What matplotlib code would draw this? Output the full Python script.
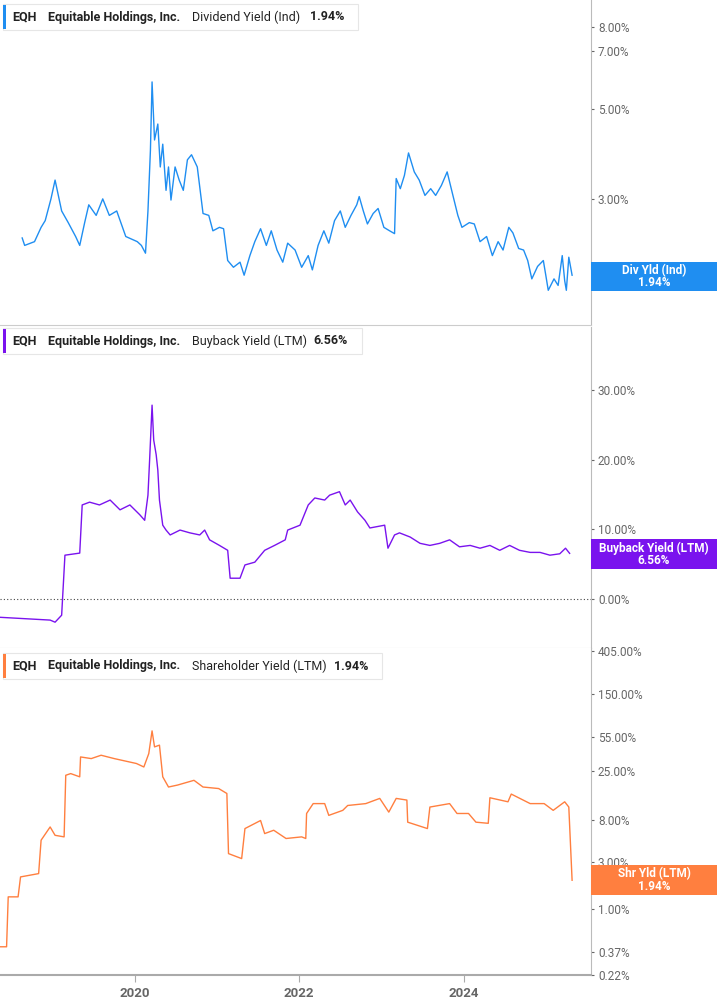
import numpy as np
import matplotlib.pyplot as plt
from matplotlib.patches import Rectangle

# ---- data (decimal years, percent) ----
div_dates = [2018.63, 2018.66, 2018.78, 2018.86, 2018.91, 2018.98, 2019.03, 2019.11, 2019.19, 2019.28,
             2019.33, 2019.39, 2019.44, 2019.53, 2019.61, 2019.69, 2019.78, 2019.89, 2020.03, 2020.08,
             2020.13, 2020.16, 2020.19, 2020.21, 2020.24, 2020.28, 2020.31, 2020.34, 2020.38, 2020.41,
             2020.44, 2020.49, 2020.54, 2020.59, 2020.64, 2020.69, 2020.76, 2020.83, 2020.90, 2020.95,
             2021.03, 2021.08, 2021.13, 2021.20, 2021.28, 2021.33, 2021.40, 2021.46, 2021.53, 2021.60,
             2021.66, 2021.73, 2021.80, 2021.86, 2021.95, 2022.03, 2022.11, 2022.16, 2022.23, 2022.30,
             2022.36, 2022.43, 2022.50, 2022.56, 2022.63, 2022.70, 2022.73, 2022.78, 2022.83, 2022.90,
             2022.96, 2023.03, 2023.10, 2023.16, 2023.18, 2023.23, 2023.28, 2023.33, 2023.40, 2023.46,
             2023.53, 2023.60, 2023.66, 2023.73, 2023.80, 2023.87, 2023.93, 2023.98, 2024.07, 2024.13,
             2024.20, 2024.28, 2024.35, 2024.42, 2024.48, 2024.55, 2024.60, 2024.67, 2024.73, 2024.78,
             2024.83, 2024.90, 2024.97, 2025.00, 2025.03, 2025.10, 2025.15, 2025.20, 2025.23, 2025.25,
             2025.28, 2025.32]
div_vals = [2.40, 2.30, 2.35, 2.55, 2.65, 3.00, 3.34, 2.80, 2.62, 2.42,
            2.30, 2.62, 2.90, 2.73, 3.00, 2.73, 2.80, 2.42, 2.35, 2.30,
            2.20, 2.80, 3.96, 5.85, 4.20, 4.60, 3.60, 4.10, 3.15, 3.60,
            2.98, 3.60, 3.34, 3.15, 3.75, 3.86, 3.60, 2.76, 2.73, 2.50,
            2.55, 2.53, 2.11, 2.03, 2.09, 1.94, 2.17, 2.35, 2.53, 2.30,
            2.50, 2.24, 2.09, 2.33, 2.24, 2.03, 2.17, 2.00, 2.30, 2.50,
            2.33, 2.65, 2.80, 2.55, 2.73, 2.90, 3.04, 2.80, 2.60, 2.76,
            2.84, 2.55, 2.50, 2.46, 3.37, 3.18, 3.43, 3.90, 3.50, 3.34,
            3.06, 3.18, 3.06, 3.24, 3.50, 3.06, 2.73, 2.55, 2.62, 2.60,
            2.35, 2.42, 2.17, 2.35, 2.24, 2.55, 2.47, 2.26, 2.24, 2.11,
            1.90, 2.04, 2.11, 1.94, 1.78, 1.90, 1.83, 2.17, 1.88, 1.78,
            2.15, 1.94]

bb_dates = [2018.36, 2018.97, 2019.03, 2019.11, 2019.15, 2019.33, 2019.36, 2019.45, 2019.57, 2019.70,
            2019.82, 2019.94, 2020.06, 2020.12, 2020.16, 2020.18, 2020.21, 2020.23, 2020.26, 2020.28,
            2020.30, 2020.34, 2020.38, 2020.43, 2020.55, 2020.67, 2020.79, 2020.85, 2020.91, 2021.03,
            2021.13, 2021.16, 2021.28, 2021.34, 2021.46, 2021.58, 2021.70, 2021.83, 2021.86, 2022.01,
            2022.11, 2022.19, 2022.31, 2022.37, 2022.49, 2022.56, 2022.62, 2022.71, 2022.80, 2022.86,
            2023.04, 2023.08, 2023.16, 2023.22, 2023.35, 2023.47, 2023.59, 2023.71, 2023.83, 2023.95,
            2024.08, 2024.20, 2024.32, 2024.44, 2024.56, 2024.68, 2024.81, 2024.93, 2025.05, 2025.17,
            2025.24, 2025.29]
bb_vals = [-2.6, -3.0, -3.3, -2.3, 6.3, 6.6, 13.5, 13.9, 13.5, 14.2,
           12.8, 13.5, 12.1, 11.3, 14.9, 19.9, 27.8, 22.8, 20.7, 18.5,
           14.2, 10.6, 9.9, 9.2, 9.9, 9.5, 9.2, 9.9, 8.5, 7.7,
           7.0, 3.0, 3.0, 4.9, 5.3, 7.0, 7.7, 8.5, 9.9, 10.6,
           13.5, 14.5, 14.2, 14.9, 15.4, 13.5, 14.2, 12.5, 11.3, 10.2,
           10.6, 7.3, 9.2, 9.5, 8.9, 8.0, 7.7, 8.0, 8.5, 7.5,
           7.7, 7.3, 7.7, 7.0, 7.7, 7.0, 6.7, 6.7, 6.3, 6.5,
           7.3, 6.56]

sh_dates = [2018.36, 2018.44, 2018.46, 2018.58, 2018.61, 2018.83, 2018.86, 2018.97, 2019.03, 2019.14,
            2019.16, 2019.22, 2019.33, 2019.34, 2019.47, 2019.59, 2019.75, 2020.02, 2020.11, 2020.17,
            2020.21, 2020.24, 2020.30, 2020.34, 2020.41, 2020.52, 2020.72, 2020.83, 2021.02, 2021.12,
            2021.14, 2021.30, 2021.34, 2021.53, 2021.58, 2021.69, 2021.84, 2022.03, 2022.08, 2022.09,
            2022.17, 2022.31, 2022.36, 2022.53, 2022.59, 2022.81, 2022.98, 2023.09, 2023.18, 2023.31,
            2023.32, 2023.56, 2023.59, 2023.83, 2023.92, 2024.06, 2024.15, 2024.30, 2024.32, 2024.54,
            2024.58, 2024.81, 2024.98, 2025.09, 2025.23, 2025.28, 2025.32]
sh_vals = [0.42, 0.42, 1.34, 1.34, 2.13, 2.30, 5.0, 6.8, 5.6, 5.4,
           22.6, 23.5, 21.8, 34.6, 33.3, 36.0, 33.3, 29.7, 27.4, 37.4,
           63.4, 43.7, 45.5, 21.8, 17.2, 18.0, 20.1, 17.2, 16.6, 14.8,
           3.66, 3.26, 6.55, 7.9, 5.83, 6.3, 5.2, 5.4, 5.2, 9.3,
           11.7, 11.7, 8.9, 10.0, 11.2, 11.7, 13.2, 9.6, 13.2, 12.7,
           7.6, 6.55, 10.8, 11.7, 9.3, 9.3, 7.6, 7.4, 13.4, 12.2,
           14.6, 11.7, 11.7, 10.0, 12.2, 10.8, 1.97]

div_ticks = [2, 3, 5, 7, 8]
bb_ticks = [0, 10, 20, 30]
sh_ticks = [0.22, 0.37, 1, 3, 8, 25, 55, 150, 405]
sh_tick_labels = ['0.22%', '0.37%', '1.00%', '3.00%', '8.00%', '25.00%', '55.00%', '150.00%', '405.00%']
x_years = [2020, 2022, 2024]

BLUE, PURPLE, ORANGE = '#1f8ef1', '#7a13ee', '#ff7f3f'
GREY = '#666666'
FONT = 'Roboto'
plt.rcParams['font.family'] = FONT

W, H = 717, 1005
fig = plt.figure(figsize=(W / 100, H / 100), dpi=100)

def axes_px(top, bottom):
    return fig.add_axes([0, 1 - bottom / H, 591 / W, (bottom - top) / H])

ax1 = axes_px(0, 325)
ax2 = axes_px(327, 648)
ax3 = axes_px(648, 975)

ax1.plot(div_dates, div_vals, color=BLUE, lw=1)
ax1.set_yscale('log')
ax1.set_ylim(1.46, 9.34)
ax1.set_yticks(div_ticks)
ax1.set_yticklabels([f'{v:.2f}%' for v in div_ticks])

ax2.plot(bb_dates, bb_vals, color=PURPLE, lw=1)
ax2.axhline(0, color='#444', lw=0.8, ls=(0, (1, 2)))
ax2.set_ylim(-7, 39)
ax2.set_yticks(bb_ticks)
ax2.set_yticklabels([f'{v:.2f}%' for v in bb_ticks])

ax3.plot(sh_dates, sh_vals, color=ORANGE, lw=1)
ax3.set_yscale('log')
ax3.set_ylim(0.218, 435)
ax3.set_yticks(sh_ticks)
ax3.set_yticklabels(sh_tick_labels)

for ax in (ax1, ax2, ax3):
    ax.set_xlim(2018.36, 2025.55)
    ax.yaxis.tick_right()
    ax.minorticks_off()
    ax.tick_params(axis='y', length=2, color=GREY, labelcolor=GREY, labelsize=8.5, pad=3)
    for s in ('left', 'top'):
        ax.spines[s].set_visible(False)
    ax.spines['right'].set_color('#bbbbbb')
    ax.spines['bottom'].set_color('#cccccc')
    ax.set_xticks(x_years)
for ax in (ax1, ax2):
    ax.tick_params(axis='x', length=0, labelbottom=False)
ax3.spines['bottom'].set_color('#aaaaaa')
ax3.spines['bottom'].set_linewidth(1.5)
ax3.tick_params(axis='x', length=5, color='#aaaaaa', labelcolor=GREY, labelsize=9.5)
for lab in ax3.get_xticklabels():
    lab.set_fontweight('bold')
ax3.set_xticklabels([str(y) for y in x_years])

def fy(y):
    return 1 - y / H

def header(yc, metric, value, x_val, box_w, color):
    fig.patches.append(Rectangle((3 / W, fy(yc + 13)), box_w / W, 26 / H, transform=fig.transFigure,
                                 facecolor='white', edgecolor='#e6e6e6', lw=0.8, zorder=5))
    fig.patches.append(Rectangle((3 / W, fy(yc + 12)), 3 / W, 24 / H, transform=fig.transFigure,
                                 facecolor=color, edgecolor='none', zorder=6))
    kw = dict(va='center', fontsize=9, color='#222', zorder=7)
    fig.text(12 / W, fy(yc), 'EQH', fontweight='bold', **kw)
    fig.text(48 / W, fy(yc), 'Equitable Holdings, Inc.', fontweight='bold', **kw)
    fig.text(192 / W, fy(yc), metric, **kw)
    fig.text(x_val / W, fy(yc), value, fontweight='bold', **kw)

header(17, 'Dividend Yield (Ind)', '1.94%', 310, 355, BLUE)
header(341, 'Buyback Yield (LTM)', '6.56%', 313, 359, PURPLE)
header(666, 'Shareholder Yield (LTM)', '1.94%', 334, 379, ORANGE)

def tag(top, bottom, line1, line2, color):
    fig.patches.append(Rectangle((591 / W, fy(bottom)), 126 / W, (bottom - top) / H, transform=fig.transFigure,
                                 facecolor=color, edgecolor='none', zorder=5))
    yc = (top + bottom) / 2
    fig.text(654 / W, fy(yc - 6), line1, ha='center', va='center', color='white', fontsize=8.5,
             fontweight='bold', zorder=6)
    fig.text(654 / W, fy(yc + 6), line2, ha='center', va='center', color='white', fontsize=8.5,
             fontweight='bold', zorder=6)

tag(262, 291, 'Div Yld (Ind)', '1.94%', BLUE)
tag(539, 569, 'Buyback Yield (LTM)', '6.56%', PURPLE)
tag(865, 895, 'Shr Yld (LTM)', '1.94%', ORANGE)

fig.savefig('out.png', dpi=100)
